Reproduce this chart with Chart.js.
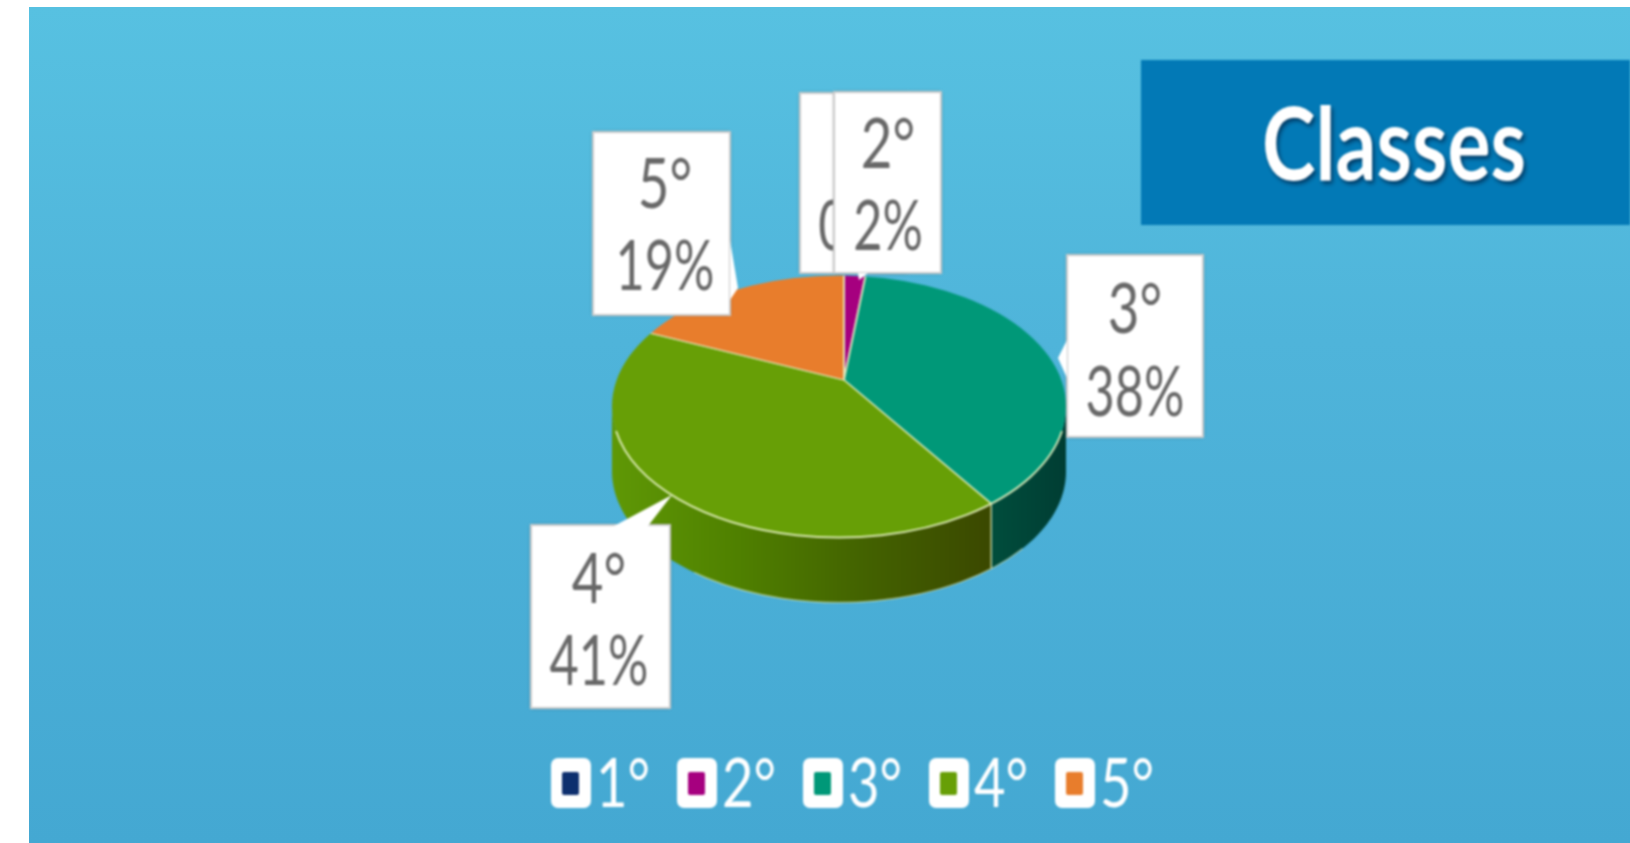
<!DOCTYPE html>
<html>
<head>
<meta charset="utf-8">
<script src="https://cdn.jsdelivr.net/npm/chart.js@4"></script>
<style>
  html, body { margin: 0; padding: 0; background: #fff; overflow: hidden; }
  #panel {
    position: absolute; left: 29px; top: 7px; width: 1601px; height: 836px;
    background: linear-gradient(180deg, #57c1e1 0%, #4fb4da 40%, #44a8d2 100%);
  }
  #pieChart { position: absolute; left: 0; top: 0; filter: blur(0.8px); }
</style>
</head>
<body>
<div id="panel"></div>
<canvas id="pieChart" width="1630" height="843"></canvas>
<script>
const categories = ['1°', '2°', '3°', '4°', '5°']
const values = [0, 2, 38, 41, 19]
const sliceColors = ['#0d2f6e', '#a6007f', '#009878', '#679f06', '#e87d2c']
const bannerTitle = 'Classes'

// side wall colours, left to right, only the slices that reach the front
const wallColors = {
  2: ['#004d3c', '#003d33'],
  3: ['#5f9806', '#4f8000', '#436200', '#3b4800'],
}

// fake 3D: pie is squashed around its apex and cut by this ellipse
const squash = 0.61
const rim = { dx: -5, dy: 26.5, rx: 227, ry: 131, depth: 65 }

// callout boxes in draw order, 1° sits behind 2°
const boxes = [
  { i: 0, x: 800, y: 93, w: 108, h: 180, cx: 853, catCx: 862, base: [168, 250] },
  { i: 1, x: 834, y: 92, w: 107, h: 181, cx: 888, base: [168, 250], tail: [[858, 273], [868, 273], [859, 280]] },
  { i: 2, x: 1067, y: 255, w: 136, h: 182, cx: 1135, base: [333, 416], tail: [[1067, 340], [1067, 378], [1058, 358]] },
  { i: 3, x: 531, y: 525, w: 139, h: 183, cx: 599, base: [603, 685], tail: [[614, 526], [648, 526], [672, 495]] },
  { i: 4, x: 593, y: 132, w: 137, h: 183, cx: 665, base: [208, 290], tail: [[730, 240], [730, 300], [738, 288]] },
]

const legendLayout = { x: 551, step: 126, y: 758, w: 40, h: 50, base: 807, textGap: 45 }

function condensed(ctx, text, x, y, factor) {
  ctx.fillText(text, x, y, ctx.measureText(text).width * factor)
}

function ellipsePoint(c, phi, drop = 0) {
  return { x: c.x + rim.rx * Math.sin(phi), y: c.y + drop - rim.ry * Math.cos(phi) }
}

// where a slice edge leaving the apex meets the rim, as an angle on the ellipse
function rimAngle(apex, c, theta) {
  const dx = Math.sin(theta) / rim.rx
  const dy = -squash * Math.cos(theta) / rim.ry
  const ox = (apex.x - c.x) / rim.rx
  const oy = (apex.y - c.y) / rim.ry
  const a = dx * dx + dy * dy
  const b = 2 * (ox * dx + oy * dy)
  const d = ox * ox + oy * oy - 1
  const t = (-b + Math.sqrt(b * b - 4 * a * d)) / (2 * a)
  const phi = Math.atan2(ox + dx * t, -(oy + dy * t))
  return phi < 0 ? phi + Math.PI * 2 : phi
}

function drawWalls(chart) {
  const ctx = chart.ctx
  const apex = chart.getDatasetMeta(0).data[0]
  const c = { x: apex.x + rim.dx, y: apex.y + rim.dy }
  const front = [Math.PI / 2, Math.PI * 1.5]

  chart.getDatasetMeta(0).data.forEach((arc, i) => {
    if (!wallColors[i]) return
    const from = Math.max(rimAngle(apex, c, arc.startAngle + Math.PI / 2), front[0])
    let to = rimAngle(apex, c, arc.endAngle + Math.PI / 2)
    to = Math.min(to, front[1])
    if (to <= from) return

    const left = ellipsePoint(c, to).x
    const right = ellipsePoint(c, from).x
    const grad = ctx.createLinearGradient(left, 0, right, 0)
    wallColors[i].forEach((col, k) => grad.addColorStop(k / (wallColors[i].length - 1), col))

    ctx.beginPath()
    for (let n = 0; n <= 60; n++) {
      const p = ellipsePoint(c, from + (to - from) * n / 60)
      if (n === 0) ctx.moveTo(p.x, p.y)
      else ctx.lineTo(p.x, p.y)
    }
    for (let n = 60; n >= 0; n--) {
      const p = ellipsePoint(c, from + (to - from) * n / 60, rim.depth)
      ctx.lineTo(p.x, p.y)
    }
    ctx.closePath()
    ctx.fillStyle = grad
    ctx.fill()

    // light seam between two walls
    if (i === 3) {
      const a = ellipsePoint(c, from)
      ctx.beginPath()
      ctx.moveTo(a.x, a.y)
      ctx.lineTo(a.x, a.y + rim.depth)
      ctx.strokeStyle = 'rgba(225,235,185,0.8)'
      ctx.lineWidth = 1.5
      ctx.stroke()
    }
  })

  // pale edge along the bottom of the wall
  ctx.beginPath()
  ctx.ellipse(c.x, c.y + rim.depth, rim.rx, rim.ry, 0, Math.PI * 0.2, Math.PI * 0.72)
  ctx.strokeStyle = 'rgba(225,235,185,0.55)'
  ctx.lineWidth = 1.5
  ctx.stroke()
}

const pie3d = {
  id: 'pie3d',
  beforeDatasetsDraw(chart) {
    const ctx = chart.ctx
    const apex = chart.getDatasetMeta(0).data[0]
    drawWalls(chart)
    ctx.save()
    ctx.beginPath()
    ctx.ellipse(apex.x + rim.dx, apex.y + rim.dy, rim.rx, rim.ry, 0, 0, Math.PI * 2)
    ctx.clip()
    ctx.translate(apex.x, apex.y)
    ctx.scale(1, squash)
    ctx.translate(-apex.x, -apex.y)
  },
  afterDatasetsDraw(chart) {
    const ctx = chart.ctx
    const apex = chart.getDatasetMeta(0).data[0]
    ctx.restore()
    // white rim on the front of the top face
    ctx.beginPath()
    ctx.ellipse(apex.x + rim.dx, apex.y + rim.dy, rim.rx, rim.ry, 0, Math.PI * 0.06, Math.PI * 0.94)
    ctx.strokeStyle = 'rgba(228,240,190,0.9)'
    ctx.lineWidth = 2
    ctx.stroke()
  },
  afterDraw(chart) {
    drawBoxes(chart.ctx)
    drawLegend(chart.ctx)
    drawBanner(chart.ctx)
  },
}

function drawBoxes(ctx) {
  ctx.textAlign = 'center'
  ctx.textBaseline = 'alphabetic'
  boxes.forEach((b) => {
    ctx.save()
    ctx.shadowColor = 'rgba(70,70,70,0.55)'
    ctx.shadowBlur = 3
    ctx.fillStyle = '#fff'
    ctx.fillRect(b.x, b.y, b.w, b.h)
    ctx.restore()
    ctx.strokeStyle = '#c9c9c9'
    ctx.lineWidth = 2
    ctx.strokeRect(b.x, b.y, b.w, b.h)
    if (b.tail) {
      ctx.beginPath()
      b.tail.forEach((p, k) => (k ? ctx.lineTo(p[0], p[1]) : ctx.moveTo(p[0], p[1])))
      ctx.closePath()
      ctx.fillStyle = '#fff'
      ctx.fill()
    }
    ctx.fillStyle = '#686868'
    ctx.font = '400 70px Lato'
    condensed(ctx, categories[b.i], b.catCx || b.cx, b.base[0], 0.78)
    condensed(ctx, values[b.i] + '%', b.cx, b.base[1], 0.72)
  })
}

function drawLegend(ctx) {
  const l = legendLayout
  categories.forEach((cat, i) => {
    const x = l.x + l.step * i
    ctx.fillStyle = '#fff'
    ctx.beginPath()
    ctx.roundRect(x, l.y, l.w, l.h, 7)
    ctx.fill()
    ctx.fillStyle = sliceColors[i]
    ctx.beginPath()
    ctx.roundRect(x + 11, l.y + 14, 17, 23, 2)
    ctx.fill()
    ctx.fillStyle = '#fff'
    ctx.font = '400 68px Lato'
    ctx.textAlign = 'left'
    condensed(ctx, cat, x + l.textGap, l.base, 0.8)
  })
}

function drawBanner(ctx) {
  ctx.fillStyle = '#0279b6'
  ctx.fillRect(1141, 60, 489, 165)
  ctx.save()
  ctx.font = '700 102px Lato'
  ctx.textAlign = 'center'
  ctx.fillStyle = '#fff'
  ctx.shadowColor = 'rgba(0,20,50,0.65)'
  ctx.shadowBlur = 4
  ctx.shadowOffsetX = 2
  ctx.shadowOffsetY = 3
  ctx.fillText(bannerTitle, 1394, 180, 264)
  ctx.restore()
}

new Chart(document.getElementById('pieChart'), {
  type: 'pie',
  data: {
    labels: categories,
    datasets: [{
      data: values,
      backgroundColor: sliceColors,
      borderColor: 'rgba(225,235,190,0.85)',
      borderWidth: 2,
      clip: false,
    }],
  },
  options: {
    responsive: false,
    animation: false,
    devicePixelRatio: 1,
    // pie centre lands on the apex in the picture, radius only has to cover the rim
    layout: { padding: { left: 544, right: 486, top: 80, bottom: 163 } },
    plugins: {
      legend: { display: false },
      tooltip: { enabled: false },
    },
  },
  plugins: [pie3d],
})
</script>
</body>
</html>
